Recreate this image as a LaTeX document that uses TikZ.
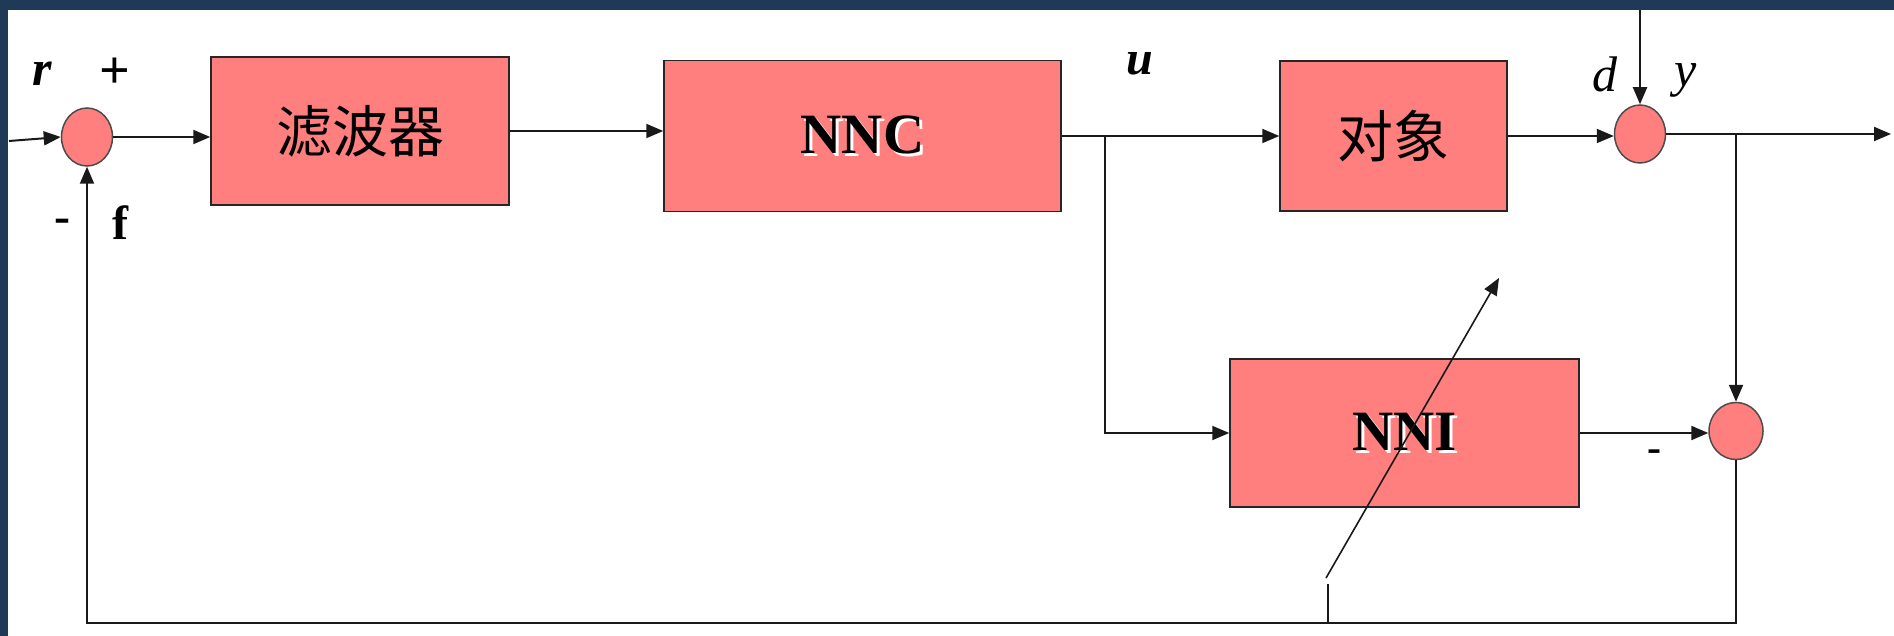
\documentclass[tikz,border=0pt]{standalone}
\usepackage{fontspec}
\setmainfont{Liberation Serif}
\newfontfamily\cjk{Noto Sans CJK SC}
\usetikzlibrary{arrows.meta,shapes.geometric}
\definecolor{navyband}{RGB}{31,58,86}
\definecolor{boxred}{RGB}{255,127,127}
\newcommand\embossed[1]{\rlap{\kern3pt\raisebox{-3pt}{\color{white}#1}}#1}
\begin{document}
\begin{tikzpicture}[x=1pt,y=-1pt,
  blk/.style={rectangle, draw=black!85, line width=1.5pt, fill=boxred, inner sep=0pt},
  sumnode/.style={ellipse, draw=black!70, line width=1.5pt, fill=boxred, inner sep=0pt,
                  minimum width=51pt, minimum height=58pt},
  conn/.style={draw=black!90, line width=2pt},
  thin/.style={draw=black!90, line width=1.6pt},
  arr/.style={conn, -{Triangle[length=17pt,width=14pt]}},
  lbl/.style={inner sep=0pt},
  latin/.style={font=\bfseries\fontsize{57}{60}\selectfont},
  hanzi/.style={font=\cjk\fontsize{56}{60}\selectfont},
  sym/.style={font=\bfseries\fontsize{54}{56}\selectfont}]
\useasboundingbox (0,0) rectangle (1894,636);
\fill[white] (0,0) rectangle (1894,636);
\fill[navyband] (0,0) rectangle (1894,10);
\fill[navyband] (0,0) rectangle (8,636);

% blocks
\node[blk, hanzi, minimum width=298pt, minimum height=148pt] (filt) at (360,131) {滤波器};
\node[blk, latin, minimum width=397pt, minimum height=151pt] (nnc) at (862.5,136) {\embossed{NNC}};
\node[blk, hanzi, minimum width=227pt, minimum height=150pt] (plant) at (1393.5,136) {对象};
\node[blk, latin, minimum width=349pt, minimum height=148pt] (nni) at (1404.5,433) {\embossed{NNI}};

% summing junctions
\node[sumnode] (s1) at (87,137) {};
\node[sumnode] (s2) at (1640,134) {};
\node[sumnode, minimum width=54pt, minimum height=57pt] (s3) at (1736,431) {};

% helper coordinates
\coordinate (in) at (9,141);
\coordinate (out) at (1891,134);
\coordinate (dtop) at (1643,10);
\coordinate (bu) at (1105,136);
\coordinate (bot) at (87,623);
\coordinate (sa) at (1326,578);
\coordinate (sb) at (1499,278);
\coordinate (va) at (1328,584);

% connectors
\draw[arr] (in) -- (s1.west);
\draw[arr] (s1.east) -- (s1.east -| filt.west);
\draw[arr] (filt.east) -- (filt.east -| nnc.west);
\draw[arr] (nnc.east) -- (plant.west);
\draw[arr] (bu) -- (bu |- nni.west) -- (nni.west);
\draw[arr] (plant.east) -- (plant.east -| s2.west);
\draw[arr] (s2.north |- dtop) -- (s2.north);
\draw[arr] (s2.east) -- (out);
\draw[arr] (s3.north |- s2.east) -- (s3.north);
\draw[arr] (nni.east) -- (nni.east -| s3.west);
\draw[arr] (s3.south) |- (bot) -- (s1.south);
\draw[thin, -{Triangle[length=17pt,width=14pt]}] (sa) -- (sb);
\draw[thin] (va) -- (va |- bot);

% labels
\node[lbl, font=\bfseries\itshape\fontsize{50}{52}\selectfont] (rlab) at (42,74) {r};
\node[lbl, sym] (plab) at (115,73) {+};
\node[lbl, font=\bfseries\fontsize{48}{50}\selectfont] (mlab) at (62,226) {-};
\node[lbl, font=\bfseries\fontsize{48}{50}\selectfont] (flab) at (120,223) {f};
\node[lbl, font=\bfseries\itshape\fontsize{48}{50}\selectfont] (ulab) at (1140,64) {u};
\node[lbl, font=\itshape\fontsize{50}{52}\selectfont] (dlab) at (1605,74) {d};
\node[lbl, font=\itshape\fontsize{50}{52}\selectfont] (ylab) at (1686,80) {y};
\node[lbl, font=\bfseries\fontsize{42}{44}\selectfont] (m2lab) at (1654,456) {-};
\end{tikzpicture}
\end{document}
